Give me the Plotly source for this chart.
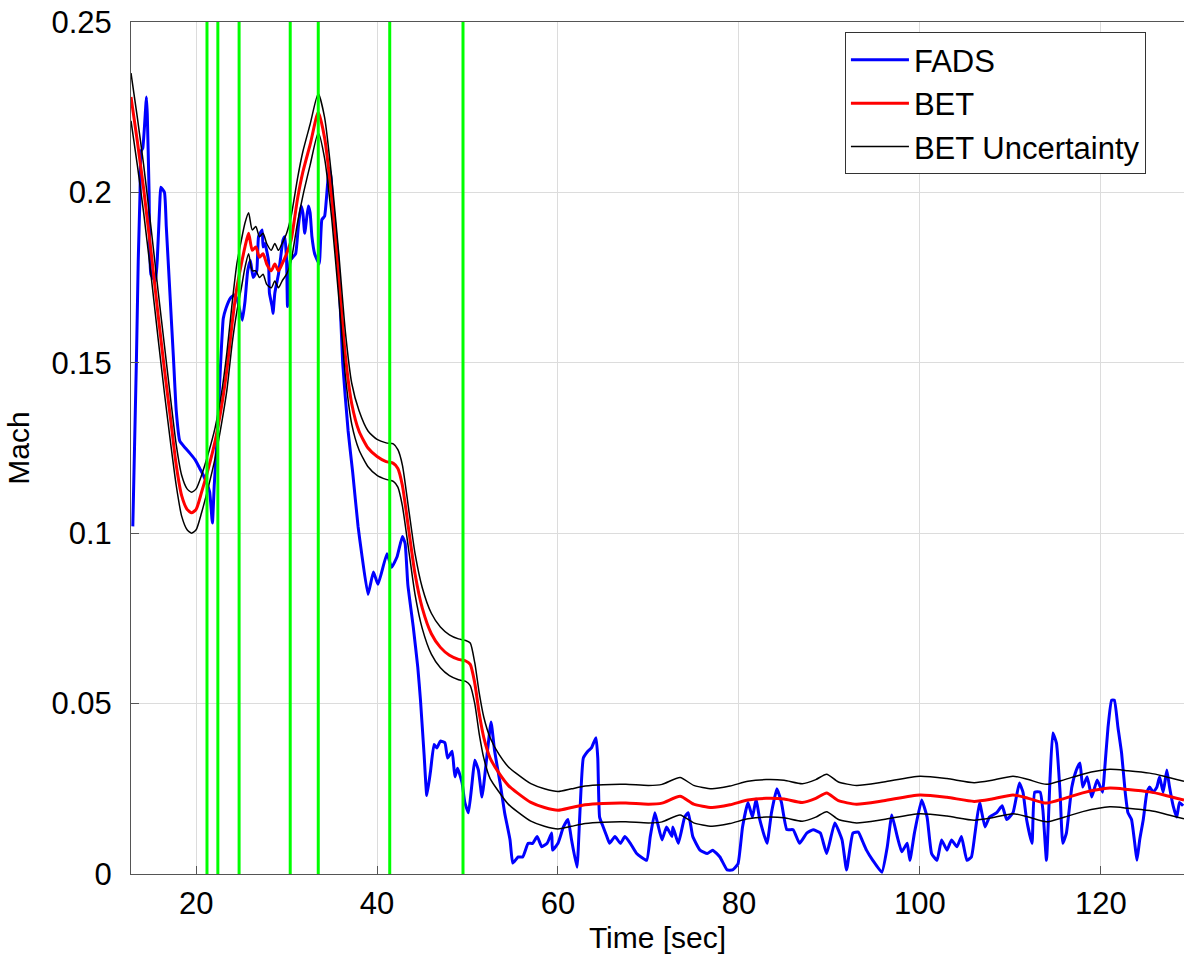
import plotly.graph_objects as go

# ---------------- data ----------------
fads_t = [13.0, 13.4, 13.6, 13.8, 13.9, 14.1, 14.4, 14.5, 14.6, 14.8, 15.0, 15.5, 15.7, 16.0, 16.1, 16.5, 16.7,
          17.1, 17.5, 17.8, 18.2, 18.8, 19.3, 19.9, 20.4, 20.8, 21.2, 21.5, 21.8, 22.0, 22.3, 22.6, 23.0, 23.3,
          23.8, 24.3, 24.6, 25.1, 25.4, 25.7, 26.0, 26.3, 26.7, 26.9, 27.3, 27.4, 27.6, 28.0, 28.1, 28.4, 28.5,
          28.7, 29.1, 29.3, 29.6, 29.8, 30.0, 30.1, 30.4, 30.7, 31.0, 31.3, 31.6, 31.8, 32.0, 32.4, 32.6, 32.8,
          33.1, 33.6, 33.9, 34.2, 34.5, 34.7, 34.9, 35.1, 35.7, 36.2, 36.8, 37.3, 37.9, 38.3, 39.0, 39.6, 40.1,
          41.1, 41.6, 42.2, 42.8, 43.1, 43.4, 44.0, 44.5, 44.8, 45.2, 45.5, 45.9, 46.3, 46.6, 47.0, 47.5, 47.8,
          48.3, 48.6, 48.9, 49.4, 49.7, 50.1, 50.5, 50.8, 51.2, 51.6, 52.2, 52.6, 53.0, 53.6, 54.1, 54.7, 55.0,
          55.6, 56.1, 56.7, 57.2, 57.7, 58.2, 58.8, 59.3, 59.4, 60.0, 60.6, 61.1, 61.5, 62.1, 62.4, 62.8, 63.3,
          63.7, 64.2, 64.4, 64.6, 65.0, 65.4, 65.7, 66.3, 66.9, 67.4, 68.0, 68.7, 69.8, 70.2, 70.7, 71.0, 71.5,
          72.0, 72.6, 72.7, 73.3, 74.0, 74.4, 74.9, 75.7, 76.5, 77.1, 77.9, 78.7, 79.3, 79.9, 80.4, 81.0, 81.5,
          81.9, 82.3, 83.1, 83.6, 84.2, 84.7, 85.3, 86.0, 86.7, 87.5, 88.2, 89.0, 89.7, 90.6, 91.4, 91.9, 92.6,
          93.2, 93.7, 94.1, 94.8, 95.8, 96.4, 96.9, 97.5, 98.0, 98.6, 98.9, 99.4, 100.2, 100.8, 101.3, 101.9,
          102.4, 103.0, 103.5, 104.1, 104.6, 105.2, 105.7, 106.1, 106.6, 107.2, 107.7, 108.5, 109.1, 109.6,
          110.3, 111.0, 111.4, 111.8, 112.4, 112.7, 113.3, 113.6, 114.0, 114.4, 114.7, 115.1, 115.5, 115.8,
          116.2, 116.8, 117.3, 117.7, 118.0, 118.5, 119.0, 119.6, 120.2, 120.4, 120.8, 121.2, 121.5, 121.9,
          122.3, 122.7, 123.0, 123.4, 123.8, 124.0, 124.3, 124.7, 125.1, 125.4, 125.8, 126.2, 126.5, 126.9,
          127.3, 127.6, 128.0, 128.4, 128.7, 129.1]
fads_mach = [0.102, 0.151, 0.180, 0.200, 0.212, 0.213, 0.224, 0.228, 0.223, 0.200, 0.176, 0.174, 0.180, 0.198,
             0.2015, 0.200, 0.190, 0.1705, 0.151, 0.136, 0.127, 0.125, 0.1235, 0.1215, 0.119, 0.117, 0.1145,
             0.112, 0.103, 0.114, 0.127, 0.144, 0.163, 0.166, 0.169, 0.170, 0.168, 0.1625, 0.168, 0.177, 0.180,
             0.175, 0.177, 0.187, 0.189, 0.184, 0.185, 0.180, 0.1705, 0.1665, 0.1645, 0.1705, 0.176, 0.180,
             0.186, 0.187, 0.180, 0.1665, 0.180, 0.181, 0.182, 0.190, 0.196, 0.194, 0.188, 0.196, 0.194, 0.187,
             0.182, 0.179, 0.192, 0.193, 0.2015, 0.207, 0.2045, 0.197, 0.180, 0.150, 0.130, 0.118, 0.102, 0.094,
             0.082, 0.0886, 0.085, 0.094, 0.090, 0.093, 0.099, 0.097, 0.085, 0.0725, 0.0607, 0.051, 0.035, 0.023,
             0.030, 0.038, 0.037, 0.039, 0.0385, 0.034, 0.036, 0.0285, 0.031, 0.0267, 0.021, 0.018, 0.0267,
             0.0334, 0.0305, 0.0226, 0.036, 0.0446, 0.036, 0.0267, 0.018, 0.010, 0.0032, 0.005, 0.005, 0.009,
             0.009, 0.011, 0.008, 0.009, 0.012, 0.007, 0.009, 0.0138, 0.016, 0.010, 0.002, 0.0167, 0.034, 0.036,
             0.037, 0.040, 0.034, 0.0167, 0.0138, 0.011, 0.009, 0.011, 0.009, 0.011, 0.009, 0.006, 0.004, 0.011,
             0.018, 0.015, 0.010, 0.0138, 0.011, 0.0138, 0.009, 0.0167, 0.018, 0.011, 0.007, 0.006, 0.007, 0.005,
             0.0012, 0.0012, 0.003, 0.0138, 0.021, 0.0167, 0.022, 0.016, 0.009, 0.018, 0.025, 0.021, 0.013,
             0.013, 0.009, 0.012, 0.013, 0.012, 0.006, 0.015, 0.010, 0.0012, 0.012, 0.0123, 0.0094, 0.007, 0.004,
             0.0005, 0.008, 0.0173, 0.011, 0.0065, 0.009, 0.004, 0.012, 0.0217, 0.0167, 0.006, 0.004, 0.010,
             0.007, 0.010, 0.008, 0.011, 0.004, 0.005, 0.012, 0.021, 0.0138, 0.0167, 0.018, 0.020, 0.016, 0.018,
             0.0267, 0.024, 0.016, 0.009, 0.024, 0.024, 0.0188, 0.004, 0.0285, 0.0414, 0.0384, 0.024, 0.009,
             0.012, 0.0255, 0.0305, 0.0326, 0.0255, 0.0285, 0.0226, 0.0276, 0.024, 0.0296, 0.043, 0.051, 0.051,
             0.043, 0.0355, 0.024, 0.018, 0.016, 0.008, 0.004, 0.010, 0.016, 0.024, 0.0255, 0.024, 0.0255,
             0.0285, 0.024, 0.0305, 0.0255, 0.020, 0.0167, 0.021, 0.020]

bet_t = [12.8, 13.5, 14.2, 15.0, 15.8, 16.5, 17.2, 17.8, 18.4, 19.0, 19.5, 20.0, 20.6, 21.3, 22.1, 22.8, 23.4,
         24.0, 24.5, 25.0, 25.4, 25.8, 26.2, 26.6, 27.0, 27.4, 27.8, 28.3, 28.7, 29.1, 29.5, 30.0, 30.5, 31.2,
         31.8, 32.6, 33.5, 34.2, 35.0, 35.8, 36.5, 37.2, 38.0, 39.0, 40.0, 41.0, 41.8, 42.3, 42.8, 43.5, 44.2,
         45.0, 46.0, 47.0, 48.0, 49.0, 49.8, 50.3, 50.8, 51.3, 51.8, 52.5, 53.5, 54.5, 55.5, 57.0, 58.5, 60.0,
         61.5, 63.0, 65.0, 67.5, 70.0, 71.5, 73.5, 75.0, 77.0, 79.0, 81.0, 83.0, 85.0, 87.0, 88.5, 89.7, 91.0,
         93.0, 96.0, 100.0, 103.0, 106.0, 108.0, 110.3, 112.0, 114.0, 116.0, 118.0, 121.0, 123.0, 125.4, 127.0,
         129.2]
bet_mach = [0.228, 0.215, 0.201, 0.183, 0.164, 0.148, 0.133, 0.120, 0.111, 0.107, 0.106, 0.107, 0.112, 0.1185,
            0.127, 0.137, 0.148, 0.162, 0.172, 0.179, 0.184, 0.188, 0.183, 0.184, 0.181, 0.182, 0.179, 0.177,
            0.179, 0.177, 0.179, 0.182, 0.186, 0.198, 0.206, 0.214, 0.2235, 0.216, 0.198, 0.174, 0.152, 0.138,
            0.130, 0.125, 0.1225, 0.121, 0.1205, 0.119, 0.114, 0.101, 0.088, 0.078, 0.0705, 0.0665, 0.0642,
            0.063, 0.0625, 0.0615, 0.056, 0.047, 0.040, 0.034, 0.0295, 0.026, 0.0238, 0.021, 0.0195, 0.0187,
            0.0195, 0.0203, 0.0207, 0.0208, 0.0205, 0.0208, 0.0228, 0.0205, 0.0195, 0.0203, 0.0217, 0.0222,
            0.022, 0.021, 0.0222, 0.0238, 0.0215, 0.0205, 0.0215, 0.0232, 0.0225, 0.0213, 0.022, 0.0232, 0.0222,
            0.0208, 0.0222, 0.0238, 0.0252, 0.0248, 0.0241, 0.0232, 0.0217]
bet_upper = [0.235, 0.222, 0.208, 0.190, 0.171, 0.155, 0.139, 0.126, 0.117, 0.113, 0.112, 0.113, 0.117, 0.123,
             0.131, 0.141, 0.153, 0.168, 0.179, 0.186, 0.191, 0.194, 0.189, 0.190, 0.187, 0.188, 0.185, 0.183,
             0.185, 0.183, 0.185, 0.188, 0.193, 0.204, 0.212, 0.220, 0.229, 0.222, 0.204, 0.181, 0.159, 0.144,
             0.136, 0.130, 0.1275, 0.1265, 0.1262, 0.1245, 0.120, 0.107, 0.094, 0.084, 0.0765, 0.0725, 0.0702,
             0.069, 0.0685, 0.0678, 0.062, 0.053, 0.046, 0.040, 0.035, 0.0315, 0.0293, 0.0265, 0.025, 0.0242,
             0.025, 0.0258, 0.0262, 0.0263, 0.026, 0.0263, 0.0283, 0.026, 0.025, 0.0258, 0.0272, 0.0277, 0.0275,
             0.0265, 0.0277, 0.0293, 0.027, 0.026, 0.027, 0.0287, 0.028, 0.0268, 0.0275, 0.0287, 0.0277, 0.0263,
             0.0277, 0.0293, 0.0307, 0.0303, 0.0296, 0.0287, 0.0272]
bet_lower = [0.221, 0.208, 0.194, 0.176, 0.157, 0.141, 0.126, 0.114, 0.105, 0.101, 0.100, 0.101, 0.106, 0.113,
             0.122, 0.132, 0.142, 0.156, 0.165, 0.172, 0.178, 0.182, 0.177, 0.177, 0.175, 0.176, 0.173, 0.172,
             0.174, 0.172, 0.174, 0.176, 0.180, 0.191, 0.199, 0.208, 0.2175, 0.210, 0.192, 0.168, 0.146, 0.132,
             0.1245, 0.1195, 0.117, 0.1158, 0.1152, 0.1135, 0.108, 0.095, 0.082, 0.072, 0.0645, 0.0605, 0.0582,
             0.057, 0.0565, 0.0553, 0.050, 0.041, 0.034, 0.028, 0.024, 0.0205, 0.0183, 0.0155, 0.014, 0.0132,
             0.014, 0.0148, 0.0152, 0.0153, 0.015, 0.0153, 0.0173, 0.015, 0.014, 0.0148, 0.0162, 0.0167, 0.0165,
             0.0155, 0.0167, 0.0183, 0.016, 0.015, 0.016, 0.0177, 0.017, 0.0158, 0.0165, 0.0177, 0.0167, 0.0153,
             0.0167, 0.0183, 0.0197, 0.0193, 0.0186, 0.0177, 0.0162]

event_times = [21.2, 22.4, 24.75, 30.4, 33.5, 41.4, 49.5]

x_ticks = [20, 40, 60, 80, 100, 120]
y_ticks = [0, 0.05, 0.1, 0.15, 0.2, 0.25]
y_tick_labels = ["0", "0.05", "0.1", "0.15", "0.2", "0.25"]
x_range = [12.8, 129.2]
y_range = [0, 0.25]

FONT = "Arial, Liberation Sans, Helvetica, sans-serif"

fig = go.Figure()
fig.add_trace(go.Scatter(x=fads_t, y=fads_mach, mode="lines", name="FADS",
                         line=dict(color="#0000ff", width=3, shape="spline", smoothing=0.4)))
fig.add_trace(go.Scatter(x=bet_t, y=bet_mach, mode="lines", name="BET",
                         line=dict(color="#ff0000", width=3, shape="spline", smoothing=0.6)))
fig.add_trace(go.Scatter(x=bet_t, y=bet_upper, mode="lines", name="BET Uncertainty",
                         line=dict(color="#000000", width=1.5, shape="spline", smoothing=0.6)))
fig.add_trace(go.Scatter(x=bet_t, y=bet_lower, mode="lines", name="BET Uncertainty", showlegend=False,
                         line=dict(color="#000000", width=1.5, shape="spline", smoothing=0.6)))
for et in event_times:
    fig.add_trace(go.Scatter(x=[et, et], y=y_range, mode="lines", showlegend=False,
                             line=dict(color="#00ff00", width=3), hoverinfo="skip"))

axis_common = dict(showgrid=True, gridcolor="#dcdcdc", gridwidth=1, showline=True, linecolor="#555555",
                   linewidth=1, mirror=True, ticks="inside", ticklen=8, tickcolor="#555555",
                   zeroline=False, tickfont=dict(family=FONT, size=31, color="black"))

fig.update_xaxes(range=x_range, tickvals=x_ticks, ticklabelstandoff=2,
                 title=dict(text="Time [sec]", standoff=4, font=dict(family=FONT, size=30, color="black")),
                 **axis_common)
fig.update_yaxes(range=y_range, tickvals=y_ticks, ticktext=y_tick_labels, ticklabelstandoff=12,
                 title=dict(text="Mach", standoff=12, font=dict(family=FONT, size=30, color="black")),
                 **axis_common)

fig.update_layout(
    width=1184, height=956,
    margin=dict(l=131, r=0, t=22, b=82),
    paper_bgcolor="white", plot_bgcolor="white",
    font=dict(family=FONT, color="black"),
    legend=dict(x=0.678, y=0.988, xanchor="left", yanchor="top",
                bgcolor="white", bordercolor="#333333", borderwidth=1,
                font=dict(family=FONT, size=31, color="black"),
                tracegroupgap=0, itemwidth=58),
    showlegend=True,
)

fig.write_html("out.html")
